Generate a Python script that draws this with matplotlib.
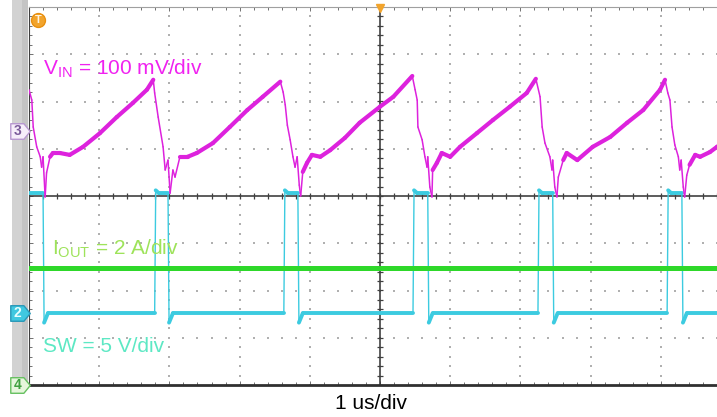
#----Oscilloscope capture: VIN ripple, IOUT, SW node----
import matplotlib
matplotlib.use('Agg')
import matplotlib.pyplot as plt
import numpy as np
from matplotlib.collections import LineCollection
from matplotlib.path import Path
from matplotlib.patches import Rectangle
from matplotlib.ticker import MultipleLocator

plt.rcParams['font.family'] = ['Liberation Sans', 'DejaVu Sans']
plt.rcParams['mathtext.fontset'] = 'custom'
plt.rcParams['mathtext.rm'] = 'Liberation Sans'
plt.rcParams['mathtext.it'] = 'Liberation Sans'

#----Datos (tiempo en us = div, amplitud en div)----
vin_t = [0.00, 0.04, 0.06, 0.11, 0.16, 0.18, 0.20, 0.23, 0.25, 0.30, 0.34, 0.44, 0.58, 0.77,
         1.01, 1.25, 1.48, 1.68, 1.77,
         1.79, 1.84, 1.91, 1.94, 1.98, 2.01, 2.05, 2.08, 2.15, 2.26, 2.39, 2.62, 2.86, 3.11,
         3.33, 3.58,
         3.62, 3.65, 3.68, 3.72, 3.76, 3.79, 3.82, 3.85, 3.87, 3.90, 3.96, 4.03, 4.15, 4.29,
         4.50, 4.71, 5.00, 5.19, 5.46,
         5.50, 5.53, 5.54, 5.60, 5.64, 5.67, 5.68, 5.71, 5.74, 5.75, 5.81, 5.88, 6.00, 6.14,
         6.38, 6.61, 6.85, 7.09, 7.22,
         7.28, 7.31, 7.35, 7.42, 7.45, 7.46, 7.49, 7.52, 7.54, 7.61, 7.66, 7.81, 8.03, 8.28,
         8.52, 8.75, 8.99, 9.06,
         9.10, 9.13, 9.16, 9.20, 9.25, 9.27, 9.29, 9.32, 9.34, 9.37, 9.41, 9.49, 9.56, 9.70,
         9.80, 10.0]
vin_v = [2.25, 2.03, 1.46, 1.04, 0.83, 0.61, 0.83, -0.02, 0.49, 0.83, 0.91, 0.91, 0.87, 1.04,
         1.33, 1.67, 1.97, 2.25, 2.46,
         2.18, 1.67, 1.04, 0.55, 0.76, 0.06, 0.55, 0.40, 0.83, 0.83, 0.91, 1.12, 1.46, 1.82,
         2.10, 2.42,
         2.20, 1.93, 1.50, 1.19, 0.83, 0.61, 0.83, 0.23, 0.00, 0.51, 0.70, 0.87, 0.83, 0.97,
         1.23, 1.55, 1.89, 2.10, 2.54,
         2.25, 2.03, 1.46, 1.19, 0.83, 0.61, 0.83, 0.19, -0.02, 0.55, 0.70, 0.91, 0.83, 1.04,
         1.33, 1.61, 1.89, 2.18, 2.48,
         2.10, 1.46, 1.12, 0.83, 0.55, 0.76, 0.19, -0.02, 0.40, 0.76, 0.91, 0.76, 1.04, 1.25,
         1.55, 1.82, 2.25, 2.46,
         2.18, 2.03, 1.46, 1.08, 0.83, 0.55, 0.76, 0.19, -0.02, 0.44, 0.66, 0.87, 0.83, 0.93,
         1.04, 1.25]

iout_t = [0.0, 10.0]
iout_v = [-1.53, -1.53]

sw_fall = [0.20, 1.98, 3.83, 5.68, 7.46, 9.30]  # flancos de bajada
sw_rise = [1.79, 3.63, 5.47, 7.25, 9.09]        # flancos de subida
sw_hi = 0.06
sw_lo = -2.48
sw_under = -2.68

#----Construir forma de onda SW a partir de los flancos----
sw_t = [0.0]
sw_v = [sw_hi]
for i, f in enumerate(sw_fall):
    sw_t += [f, f + 0.015, f + 0.07]
    sw_v += [sw_hi, sw_under, sw_lo]
    if i < len(sw_rise):
        r = sw_rise[i]
        sw_t += [r, r + 0.015, r + 0.06]
        sw_v += [sw_lo, sw_hi + 0.06, sw_hi]
sw_t.append(10.0)
sw_v.append(sw_lo)


def trazo(ax, t, v, color, lw_lento, lw_rapido, z, limite=4.0):
    pts = np.column_stack([t, v])
    segs = np.stack([pts[:-1], pts[1:]], axis=1)
    dt = np.diff(t)
    dv = np.abs(np.diff(v))
    pend = np.where(dt > 0, dv / np.maximum(dt, 1e-9), 1e9)
    anchos = np.where(pend < limite, lw_lento, lw_rapido)
    lc = LineCollection(segs, colors=color, linewidths=anchos, capstyle='round',
                        joinstyle='round', zorder=z)
    ax.add_collection(lc)


#----Figura----
fig = plt.figure(figsize=(7.17, 4.17), dpi=100)
fig.patch.set_facecolor('white')
ax = fig.add_axes([29 / 717, 32 / 417, 702 / 717, 378 / 417])
ax.set_zorder(1)
ax.set_xlim(0, 10)
ax.set_ylim(-4, 4)

# barra gris izquierda
fig.patches.append(Rectangle((12 / 717, 32 / 417), 10 / 717, 1 - 32 / 417,
                             transform=fig.transFigure, facecolor='#d2d2d2',
                             edgecolor='none', zorder=-1))
fig.patches.append(Rectangle((22 / 717, 32 / 417), 6 / 717, 1 - 32 / 417,
                             transform=fig.transFigure, facecolor='#c4c4c4',
                             edgecolor='none', zorder=-1))

# rejilla punteada
menor = np.arange(-4, 4.001, 0.2)
menor_x = np.arange(0, 10.001, 0.2)
for gx in range(1, 10):
    if gx != 5:
        ax.scatter(np.full(menor.size, gx), menor, s=1.6, marker='s', color='#b0b0b0',
                   linewidths=0, zorder=1)
for gy in range(-3, 4):
    if gy != 0:
        ax.scatter(menor_x, np.full(menor_x.size, gy), s=1.6, marker='s', color='#b0b0b0',
                   linewidths=0, zorder=1)

# ejes centrales con marcas
ax.axhline(0, color='#303030', lw=1.1, zorder=2)
ax.axvline(5, color='#303030', lw=1.1, zorder=2)
ax.plot(menor_x, np.zeros(menor_x.size), '|', ms=5, mew=0.9, color='#404040', zorder=2)
ax.plot(np.full(menor.size, 5), menor, '_', ms=5, mew=0.9, color='#404040', zorder=2)

# bordes
ax.xaxis.set_major_locator(MultipleLocator(1))
ax.xaxis.set_minor_locator(MultipleLocator(0.2))
ax.yaxis.set_major_locator(MultipleLocator(1))
ax.yaxis.set_minor_locator(MultipleLocator(0.2))
ax.tick_params(which='both', direction='in', top=True, bottom=True, left=True, right=False,
               labelbottom=False, labelleft=False, color='#707070', width=0.7)
ax.tick_params(which='major', length=3.0)
ax.tick_params(which='minor', length=2.0)
ax.spines['right'].set_visible(False)
ax.spines['left'].set_color('#404040')
ax.spines['top'].set_color('#a0a0a0')
ax.spines['bottom'].set_color('#303030')
ax.spines['bottom'].set_linewidth(2)

#----Trazas----
trazo(ax, sw_t, sw_v, '#3ccbe0', 2.8, 1.0, 3)
trazo(ax, iout_t, iout_v, '#2ed82a', 3.6, 3.6, 4)
trazo(ax, vin_t, vin_v, '#dd22dd', 3.0, 1.1, 5)

#----Etiquetas----
ax.text(0.20, 2.56, r'$\mathrm{V_{IN}}$ = 100 mV/div', color='#f022f0', fontsize=15,
        va='baseline', ha='left', zorder=6)
ax.text(0.33, -1.25, r'$\mathrm{I_{OUT}}$ = 2 A/div', color='#9ee35a', fontsize=15,
        va='baseline', ha='left', zorder=6)
ax.text(0.20, -3.31, 'SW = 5 V/div', color='#5de8c4', fontsize=15,
        va='baseline', ha='left', zorder=6)
fig.text(371 / 717, 8 / 417, '1 us/div', color='black', fontsize=15, ha='center',
         va='baseline')

#----Marcadores de canal----
casa = Path([(-1, -0.8), (0.35, -0.8), (1, 0), (0.35, 0.8), (-1, 0.8), (-1, -0.8)],
            [Path.MOVETO, Path.LINETO, Path.LINETO, Path.LINETO, Path.LINETO, Path.CLOSEPOLY])
marcas = [('3', 1.38, '#f6eefa', '#b898d0', '#7a5a9a'),
          ('2', -2.48, '#40c8e0', '#2a98b8', '#e8ffff'),
          ('4', -4.0, '#e6f6dc', '#66c060', '#40a040')]
for txt, yv, fc, ec, tc in marcas:
    ax.plot(-0.13, yv, marker=casa, ms=14, mfc=fc, mec=ec, mew=1, clip_on=False, zorder=7)
    ax.text(-0.16, yv, txt, color=tc, fontsize=10, fontweight='bold', ha='center',
            va='center', clip_on=False, zorder=8)

ax.plot(0.13, 3.73, 'o', ms=10, mfc='#f2a42c', mec='#e89010', clip_on=False, zorder=7)
ax.text(0.13, 3.72, 'T', color='#fff4e0', fontsize=8, fontweight='bold', ha='center',
        va='center', zorder=8)
ax.plot(5, 3.97, 'v', ms=6, mfc='#f2a42c', mec='#f2a42c', clip_on=False, zorder=7)

fig.savefig('out.png', dpi=100)
